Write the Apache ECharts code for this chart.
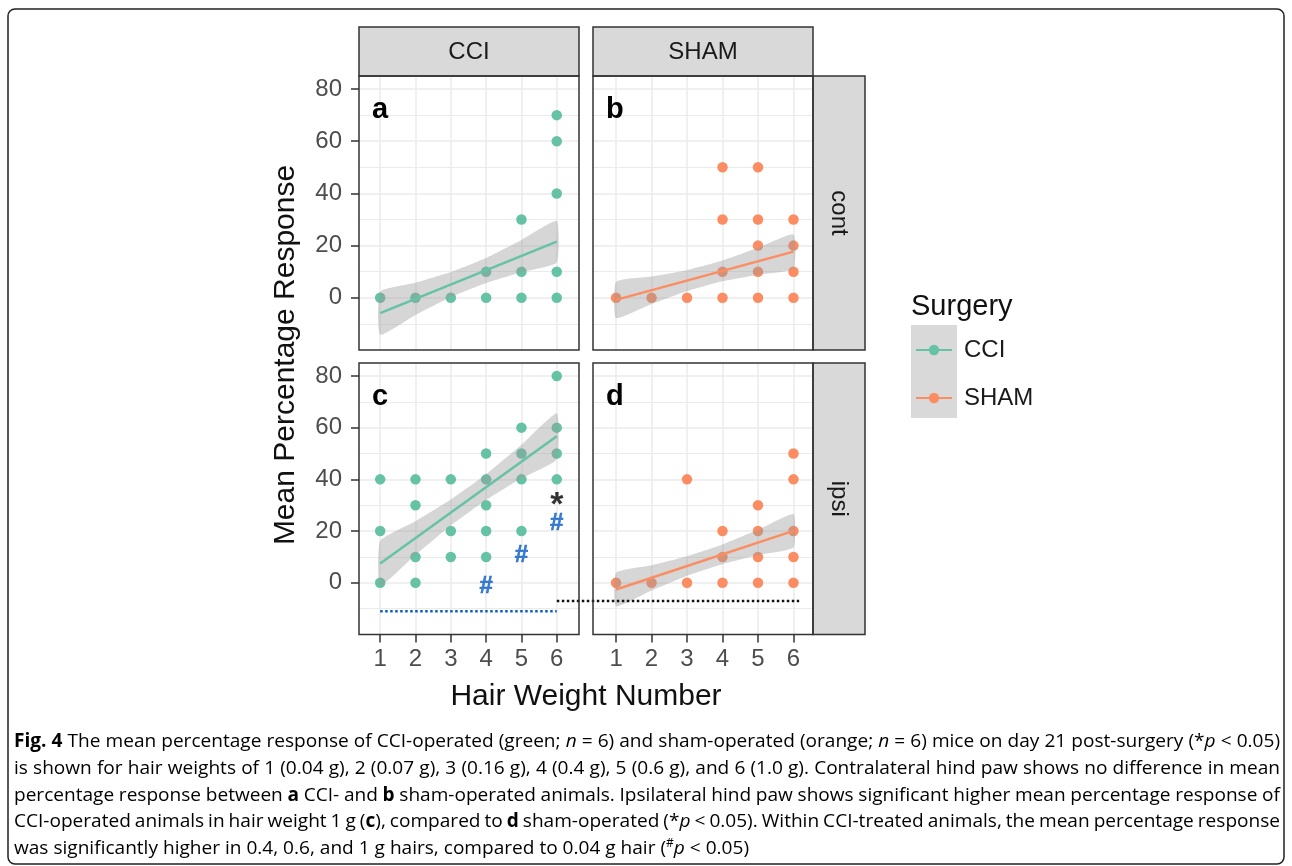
<!DOCTYPE html>
<html><head><meta charset="utf-8">
<script src="https://cdn.jsdelivr.net/npm/echarts@6/dist/echarts.min.js"></script>
<style>html,body{margin:0;padding:0;background:#fff}#c{width:1292px;height:866px}</style>
</head><body><div id="c"></div>
<script>
// ---------------- data ----------------
const hairWeights = [1, 2, 3, 4, 5, 6];
const yTicks = [0, 20, 40, 60, 80];
const surgeries = ['CCI', 'SHAM'];
const pawSides = ['cont', 'ipsi'];
const panelLetters = ['a', 'b', 'c', 'd'];

// [hair weight number, mean percentage response]
const cciContPoints = [[1,0],[2,0],[3,0],[4,0],[4,10],[5,0],[5,10],[5,30],[6,0],[6,10],[6,40],[6,60],[6,70]];
const shamContPoints = [[1,0],[2,0],[3,0],[4,0],[4,10],[4,30],[4,50],[5,0],[5,10],[5,20],[5,30],[5,50],[6,0],[6,10],[6,20],[6,30]];
const cciIpsiPoints = [[1,0],[1,20],[1,40],[2,0],[2,10],[2,30],[2,40],[3,10],[3,20],[3,40],[4,10],[4,20],[4,30],[4,40],[4,50],[5,20],[5,40],[5,50],[5,60],[6,40],[6,50],[6,60],[6,80]];
const shamIpsiPoints = [[1,0],[2,0],[3,0],[3,40],[4,0],[4,10],[4,20],[5,0],[5,10],[5,20],[5,30],[6,0],[6,10],[6,20],[6,40],[6,50]];

// linear fit end points (at x = 1 and x = 6)
const fitX = [1, 6];
const cciContFit = [-5.9, 21.5];
const shamContFit = [-0.8, 17.7];
const cciIpsiFit = [7.5, 56.7];
const shamIpsiFit = [-2.6, 20.1];

// confidence ribbons
const ribbonX = [1, 2, 3, 3.5, 4, 5, 6];
const cciContLower = [-14.2, -6.6, 0.3, 3.1, 5.7, 9.8, 13.5];
const cciContUpper = [2.4, 5.8, 9.9, 12.5, 15.3, 22.2, 29.5];
const shamContLower = [-7.8, -2.4, 2.6, 4.55, 6.3, 8.8, 11.1];
const shamContUpper = [6.2, 8.2, 10.6, 12.35, 14.3, 19.2, 24.3];
const cciIpsiLower = [-1.2, 10.8, 22.2, 27.2, 32.0, 40.4, 47.8];
const cciIpsiUpper = [16.2, 23.8, 32.2, 37.0, 42.0, 53.4, 65.6];
const shamIpsiLower = [-9.1, -3.0, 2.7, 5.05, 7.2, 10.7, 13.6];
const shamIpsiUpper = [3.9, 6.8, 10.3, 12.45, 14.8, 20.5, 26.6];

// significance annotations
const starMarks = [[6, 32.6]];                  // panel c
const hashMarks = [[4, -1.5], [5, 10.7], [6, 22.9]]; // panel c
const blueDotLine = [[1, -11], [6, -11]];       // panel c
const blackDotLine = [[-0.67, -7], [6.16, -7]]; // panel d coords (runs back into c)

const captionLines = [
  [['Fig. 4','b'],[' The mean percentage response of CCI-operated (green; ','n'],['n','i'],[' = 6) and sham-operated (orange; ','n'],['n','i'],[' = 6) mice on day 21 post-surgery (*','n'],['p','i'],[' < 0.05)','n']],
  [['is shown for hair weights of 1 (0.04 g), 2 (0.07 g), 3 (0.16 g), 4 (0.4 g), 5 (0.6 g), and 6 (1.0 g). Contralateral hind paw shows no difference in mean','n']],
  [['percentage response between ','n'],['a','b'],[' CCI- and ','n'],['b','b'],[' sham-operated animals. Ipsilateral hind paw shows significant higher mean percentage response of','n']],
  [['CCI-operated animals in hair weight 1 g (','n'],['c','b'],['), compared to ','n'],['d','b'],[' sham-operated (*','n'],['p','i'],[' < 0.05). Within CCI-treated animals, the mean percentage response','n']],
  [['was significantly higher in 0.4, 0.6, and 1 g hairs, compared to 0.04 g hair (','n'],['#','s'],['p','i'],[' < 0.05)','n']]
];

// ---------------- layout / style ----------------
const FONT = 'Liberation Sans';
const COLORS = { CCI: '#66c2a5', SHAM: '#fc8d62' };
const HASH_BLUE = '#0b5ec4';
const GRIDS = [
  { left: 359, top: 76, width: 220, height: 274 },
  { left: 593, top: 76, width: 220, height: 274 },
  { left: 359, top: 363, width: 220, height: 271.5 },
  { left: 593, top: 363, width: 220, height: 271.5 }
];
const XRANGE = [[0.4, 6.63], [0.35, 6.55]];
const YRANGE = [-20, 85];

const panels = [
  { points: cciContPoints, fit: cciContFit, lower: cciContLower, upper: cciContUpper, name: surgeries[0] },
  { points: shamContPoints, fit: shamContFit, lower: shamContLower, upper: shamContUpper, name: surgeries[1] },
  { points: cciIpsiPoints, fit: cciIpsiFit, lower: cciIpsiLower, upper: cciIpsiUpper, name: surgeries[0] },
  { points: shamIpsiPoints, fit: shamIpsiFit, lower: shamIpsiLower, upper: shamIpsiUpper, name: surgeries[1] }
];

const gridLine = { color: '#ebebeb', width: 1.5 };

const xAxes = GRIDS.map((g, i) => {
  const col = i % 2, bottom = i >= 2;
  return {
    type: 'value', gridIndex: i, min: XRANGE[col][0], max: XRANGE[col][1], position: 'bottom',
    axisLine: { show: false, onZero: false },
    axisTick: { show: bottom, length: 8, lineStyle: { color: '#333', width: 1.5 }, customValues: hairWeights },
    axisLabel: { show: bottom, customValues: hairWeights, margin: 13, fontSize: 24, color: '#4d4d4d', fontFamily: FONT },
    splitLine: { show: true, lineStyle: gridLine }
  };
});
const yAxes = GRIDS.map((g, i) => {
  const left = i % 2 === 0;
  return {
    type: 'value', gridIndex: i, min: YRANGE[0], max: YRANGE[1], interval: 20, position: 'left',
    axisLine: { show: false, onZero: false },
    axisTick: { show: left, length: 8, lineStyle: { color: '#333', width: 1.5 }, customValues: yTicks },
    axisLabel: { show: left, customValues: yTicks, margin: 17, fontSize: 24, color: '#4d4d4d', fontFamily: FONT },
    splitLine: { show: true, lineStyle: gridLine },
    minorTick: { show: false, splitNumber: 2 },
    minorSplitLine: { show: true, lineStyle: { color: '#ebebeb', width: 1.2 } }
  };
});

const series = [];
// fit lines first (legend icon = line + dot)
panels.forEach((p, i) => {
  series.push({
    type: 'line', name: p.name, xAxisIndex: i, yAxisIndex: i, z: 5,
    data: fitX.map((x, k) => [x, p.fit[k]]),
    symbol: 'circle', showSymbol: false, silent: true,
    itemStyle: { color: COLORS[p.name] },
    lineStyle: { color: COLORS[p.name], width: 2.5 }
  });
});
panels.forEach((p, i) => {
  series.push({
    type: 'scatter', name: p.name, xAxisIndex: i, yAxisIndex: i, z: 2,
    data: p.points, symbolSize: 10.5, silent: true,
    itemStyle: { color: COLORS[p.name], opacity: 1 }
  });
  series.push({
    type: 'custom', name: 'ribbon-' + i, xAxisIndex: i, yAxisIndex: i, z: 3, silent: true,
    data: [[ribbonX[0], p.lower[0]]],
    renderItem: (params, api) => {
      const pts = [];
      for (let k = 0; k < ribbonX.length; k++) pts.push(api.coord([ribbonX[k], p.upper[k]]));
      for (let k = ribbonX.length - 1; k >= 0; k--) pts.push(api.coord([ribbonX[k], p.lower[k]]));
      return { type: 'polygon', shape: { points: pts, smooth: 0.15 }, style: { fill: 'rgba(153,153,153,0.4)' } };
    }
  });
});
// annotations
series.push({
  type: 'line', name: 'blue-dots', xAxisIndex: 2, yAxisIndex: 2, z: 6, data: blueDotLine, symbol: 'none', silent: true,
  lineStyle: { color: HASH_BLUE, width: 2.5, type: [2.5, 2.5] }
});
series.push({
  type: 'custom', name: 'black-dots', xAxisIndex: 3, yAxisIndex: 3, z: 6, silent: true, clip: false,
  data: [blackDotLine[0]],
  renderItem: (params, api) => {
    const a = api.coord(blackDotLine[0]), b = api.coord(blackDotLine[1]);
    return { type: 'line', shape: { x1: a[0], y1: a[1], x2: b[0], y2: b[1] }, style: { stroke: '#111', lineWidth: 2.5, lineDash: [2.5, 2.5] } };
  }
});
series.push({
  type: 'scatter', name: 'star', xAxisIndex: 2, yAxisIndex: 2, z: 7, data: starMarks, symbolSize: 2, silent: true,
  itemStyle: { color: 'rgba(0,0,0,0)' },
  label: { show: true, position: 'inside', formatter: '*', fontSize: 34, fontWeight: 'bold', color: '#000', fontFamily: FONT, offset: [0, 7] }
});
series.push({
  type: 'scatter', name: 'hash', xAxisIndex: 2, yAxisIndex: 2, z: 7, data: hashMarks, symbolSize: 2, silent: true,
  itemStyle: { color: 'rgba(0,0,0,0)' },
  label: { show: true, position: 'inside', formatter: '#', fontSize: 24, fontWeight: 'bold', color: HASH_BLUE, fontFamily: FONT, textBorderColor: HASH_BLUE, textBorderWidth: 0.6 }
});

// ---------------- graphics ----------------
const graphic = [];
// outer frame
graphic.push({ type: 'rect', z: 50, shape: { x: 8, y: 9, width: 1276, height: 855, r: 7 }, style: { fill: 'none', stroke: '#222', lineWidth: 1.5 } });
// top strips
surgeries.forEach((s, c) => {
  const g = GRIDS[c];
  graphic.push({ type: 'rect', z: 20, shape: { x: g.left, y: 27, width: g.width, height: g.top - 27 }, style: { fill: '#d9d9d9', stroke: '#333', lineWidth: 1.5 } });
  graphic.push({ type: 'text', z: 21, x: g.left + g.width / 2, y: 52, style: { text: s, fontSize: 24, fontFamily: FONT, fill: '#1a1a1a', align: 'center', verticalAlign: 'middle' } });
});
// right strips
pawSides.forEach((s, r) => {
  const g = GRIDS[r * 2 + 1];
  graphic.push({ type: 'rect', z: 20, shape: { x: g.left + g.width, y: g.top, width: 52, height: g.height }, style: { fill: '#d9d9d9', stroke: '#333', lineWidth: 1.5 } });
  graphic.push({ type: 'text', z: 21, x: g.left + g.width + 26, y: g.top + g.height / 2, rotation: -Math.PI / 2, style: { text: s, fontSize: 24, fontFamily: FONT, fill: '#1a1a1a', align: 'center', verticalAlign: 'middle' } });
});
// panel borders + letters
GRIDS.forEach((g, i) => {
  graphic.push({ type: 'rect', z: 22, shape: { x: g.left, y: g.top, width: g.width, height: g.height }, style: { fill: 'none', stroke: '#333', lineWidth: 1.5 } });
  graphic.push({ type: 'text', z: 22, x: g.left + 13, y: g.top + 34, style: { text: panelLetters[i], fontSize: 29, fontWeight: 'bold', fontFamily: FONT, fill: '#000', align: 'left', verticalAlign: 'middle' } });
});
// axis titles
graphic.push({ type: 'text', z: 21, x: 286, y: 355, rotation: Math.PI / 2, style: { text: 'Mean Percentage Response', fontSize: 30, fontFamily: FONT, fill: '#111', align: 'center', verticalAlign: 'middle' } });
graphic.push({ type: 'text', z: 21, x: 586, y: 697, style: { text: 'Hair Weight Number', fontSize: 30, fontFamily: FONT, fill: '#111', align: 'center', verticalAlign: 'middle' } });
// legend title and key background
graphic.push({ type: 'text', z: 21, x: 911, y: 307, style: { text: 'Surgery', fontSize: 29, fontFamily: FONT, fill: '#111', align: 'left', verticalAlign: 'middle' } });
graphic.push({ type: 'rect', z: 1, shape: { x: 911, y: 325, width: 46, height: 93 }, style: { fill: '#d9d9d9' } });

// caption (justified lines)
const CAP_FONT = 'Open Sans', CAP_SIZE = 19, CAP_COLOR = '#231f20';
const capLeft = 14, capJustifyWidth = 1266, capLastWidth = 735;
const capY = [742, 768.7, 795.3, 822, 848.7];
const mctx = document.createElement('canvas').getContext('2d');
function fontFor(st) {
  return (st === 'i' ? 'italic ' : '') + (st === 'b' ? 'bold ' : '') + (st === 's' ? '12px ' : CAP_SIZE + 'px ') + '"' + CAP_FONT + '"';
}
function segW(t, st) { mctx.font = fontFor(st); return mctx.measureText(t).width; }
const capRich = {
  n: { fontFamily: CAP_FONT, fontSize: CAP_SIZE, color: CAP_COLOR, lineHeight: 22 },
  b: { fontFamily: CAP_FONT, fontSize: CAP_SIZE, fontWeight: 'bold', color: CAP_COLOR, lineHeight: 22 },
  i: { fontFamily: CAP_FONT, fontSize: CAP_SIZE, fontStyle: 'italic', color: CAP_COLOR, lineHeight: 22 },
  s: { fontFamily: CAP_FONT, fontSize: 12, color: CAP_COLOR, lineHeight: 22, verticalAlign: 'top' }
};
function toWords(segs) {
  const words = [[]];
  segs.forEach(([t, st]) => {
    t.split(' ').forEach((p, k) => {
      if (k > 0) words.push([]);
      if (p) words[words.length - 1].push([p, st]);
    });
  });
  return words.filter(w => w.length);
}
const lastLine = captionLines[captionLines.length - 1];
const capScale = capLastWidth / lastLine.reduce((s, [t, st]) => s + segW(t, st), 0);
const spaceW = segW(' ', 'n') * capScale;
captionLines.forEach((segs, li) => {
  const words = toWords(segs);
  const ww = words.map(w => w.reduce((s, [t, st]) => s + segW(t, st), 0) * capScale);
  const total = ww.reduce((a, b) => a + b, 0);
  const isLast = li === captionLines.length - 1;
  const gap = isLast ? spaceW : (capJustifyWidth - total) / (words.length - 1);
  let x = capLeft;
  words.forEach((w, k) => {
    graphic.push({
      type: 'text', z: 21, x: x, y: capY[li], scaleX: capScale,
      style: { text: w.map(([t, st]) => '{' + st + '|' + t + '}').join(''), rich: capRich, verticalAlign: 'middle', align: 'left' }
    });
    x += ww[k] + gap;
  });
});

const chart = echarts.init(document.getElementById('c'), null, { renderer: 'canvas' });
chart.setOption({
  backgroundColor: '#fff',
  animation: false,
  textStyle: { fontFamily: FONT },
  grid: GRIDS.map(g => Object.assign({ show: false, containLabel: false }, g)),
  xAxis: xAxes,
  yAxis: yAxes,
  legend: {
    data: surgeries, orient: 'vertical', left: 910, top: 333, itemWidth: 36, itemHeight: 13, itemGap: 24, z: 5,
    selectedMode: false,
    textStyle: { fontSize: 24, color: '#1a1a1a', fontFamily: FONT, padding: [0, 0, 0, 7] }
  },
  series,
  graphic
});
</script></body></html>
